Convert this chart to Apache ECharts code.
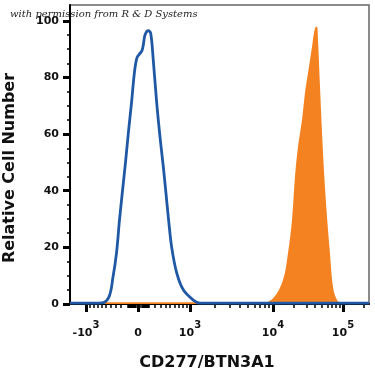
<!DOCTYPE html>
<html>
<head>
<meta charset="utf-8">
<script src="https://cdn.jsdelivr.net/npm/echarts@6/dist/echarts.min.js"></script>
<style>
  html, body { margin: 0; padding: 0; background: #fff; }
  #main { width: 375px; height: 375px; }
</style>
</head>
<body>
<div id="main"></div>
<script>
// x values are in display (biexponential) units, 0 = zero fluorescence
const blueX = [-68, -45, -36, -29, -25, -21.5, -18.5, -15.5, -12.5, -9.5, -6.5, -3.5, -1, 2, 4, 5.3, 7, 10.3, 12.7, 15.3, 18.7, 22, 25.3, 28, 30.5, 33.7, 38.7, 45.3, 55.3, 62, 231];
const blueY = [0.3, 0.3, 0.4, 2.5, 9.5, 18, 29.7, 40, 50, 61, 71, 82, 87, 88.5, 89.5, 91.5, 95, 96.5, 95.6, 86, 71, 59, 48.5, 39, 30, 20, 11, 5, 1.4, 0.3, 0.3];

const orangeX = [-35, 62, 64, 122, 135, 145, 150, 154, 157, 160, 164, 167, 170, 174, 177, 179, 180, 182, 185, 188, 192, 195, 199, 204];
const orangeY = [0.6, 0.6, 0, 0, 2, 8.5, 18, 29.7, 44.9, 55.5, 65, 74.6, 81.6, 90.8, 97.5, 97.9, 93.3, 76.7, 53.4, 35.7, 17.7, 6, 1.4, 0];

// tick labels (real values)
const majorVals = [-1000, 0, 1000, 10000, 100000];
const tickBase = ['-10', '0', '10', '10', '10'];
const tickExp = ['3', '', '3', '4', '5'];
const minorVals = [];
for (let v = 100; v < 1000; v += 100) { minorVals.push(v, -v); }
for (let v = 10; v < 100; v += 10) { minorVals.push(v, -v); }
for (let v = 2000; v < 10000; v += 1000) minorVals.push(v);
for (let v = 20000; v < 100000; v += 10000) minorVals.push(v);
minorVals.push(200000);

const yMajor = [0, 20, 40, 60, 80, 100];
const yMinor = [5, 10, 15, 25, 30, 35, 45, 50, 55, 65, 70, 75, 85, 90, 95];

// real value -> display units
function disp(v) {
    const s = Math.sign(v), a = Math.abs(v);
    if (a <= 1000) return s * 52 * Math.pow(a / 1000, 0.7);
    if (a <= 10000) return s * (52 + 83 * Math.log10(a / 1000));
    return s * (135 + 70 * Math.log10(a / 10000));
}
const majorPos = majorVals.map(disp);
const minorPos = minorVals.map(disp);

const chart = echarts.init(document.getElementById('main'));
const font = 'DejaVu Sans';

const option = {
    animation: false,
    grid: {
        left: 70, right: 6, top: 5, bottom: 71,
        show: true, borderColor: '#666', borderWidth: 1.5
    },
    xAxis: [{
        type: 'value', min: -68, max: 231,
        axisLine: { show: true, onZero: false, lineStyle: { color: '#000', width: 2 } },
        axisTick: { show: true, customValues: majorPos, length: 8, lineStyle: { color: '#000', width: 3 } },
        splitLine: { show: false },
        axisLabel: {
            customValues: majorPos,
            margin: 16,
            formatter: function (val) {
                let k = 0, best = 1e9;
                majorPos.forEach(function (p, i) { if (Math.abs(p - val) < best) { best = Math.abs(p - val); k = i; } });
                return tickExp[k] ? '{b|' + tickBase[k] + '}{s|' + tickExp[k] + '}' : '{b|' + tickBase[k] + '}';
            },
            rich: {
                b: { fontFamily: font, fontWeight: 'bold', fontSize: 11, color: '#111', lineHeight: 19, verticalAlign: 'bottom' },
                s: { fontFamily: font, fontWeight: 'bold', fontSize: 10, color: '#111', verticalAlign: 'top' }
            }
        }
    }, {
        type: 'value', min: -68, max: 231, position: 'bottom',
        axisLine: { show: false, onZero: false },
        axisTick: { show: true, customValues: minorPos, length: 4, lineStyle: { color: '#000', width: 1.5 } },
        axisLabel: { show: false },
        splitLine: { show: false }
    }],
    yAxis: [{
        type: 'value', min: 0, max: 105.6,
        axisLine: { show: true, onZero: false, lineStyle: { color: '#000', width: 2 } },
        axisTick: { show: true, customValues: yMajor, length: 7, lineStyle: { color: '#000', width: 3 } },
        splitLine: { show: false },
        axisLabel: {
            customValues: yMajor, margin: 11,
            fontFamily: font, fontWeight: 'bold', fontSize: 11, color: '#111'
        }
    }, {
        type: 'value', min: 0, max: 105.6, position: 'left',
        axisLine: { show: false, onZero: false },
        axisTick: { show: true, customValues: yMinor, length: 3, lineStyle: { color: '#000', width: 1.5 } },
        axisLabel: { show: false },
        splitLine: { show: false }
    }],
    graphic: [{
        type: 'text', left: 10, top: 9,
        style: { text: 'with permission from R & D Systems', font: 'italic 10px "DejaVu Serif"', fill: '#222' }
    }, {
        type: 'text', x: 207, y: 363,
        style: { text: 'CD277/BTN3A1', font: 'bold 16px "DejaVu Sans"', fill: '#111', align: 'center', verticalAlign: 'middle' }
    }, {
        type: 'text', x: 10, y: 168, rotation: Math.PI / 2,
        style: { text: 'Relative Cell Number', font: 'bold 16px "DejaVu Sans"', fill: '#111', align: 'center', verticalAlign: 'middle' }
    }],
    series: [{
        type: 'line', name: 'CD277',
        data: orangeX.map(function (x, i) { return [x, orangeY[i]]; }),
        showSymbol: false, smooth: 0.35,
        lineStyle: { width: 0 },
        areaStyle: { color: '#f58220', opacity: 1 },
        z: 2
    }, {
        type: 'line', name: 'Isotype',
        data: blueX.map(function (x, i) { return [x, blueY[i]]; }),
        showSymbol: false, smooth: 0.35,
        lineStyle: { color: '#1f58a5', width: 2.8 },
        z: 3
    }]
};

chart.setOption(option);
</script>
</body>
</html>
